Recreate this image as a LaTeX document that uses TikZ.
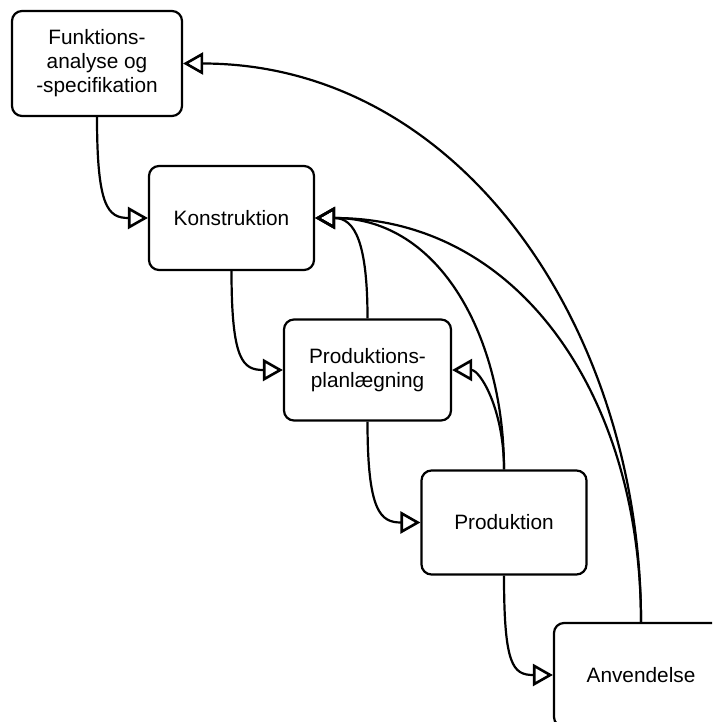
\documentclass[tikz,border=0pt]{standalone}
\usepackage{fontspec}
\setmainfont{Liberation Sans}
\usetikzlibrary{arrows.meta}
\begin{document}
\begin{tikzpicture}[x=1pt,y=-1pt,
  phase/.style={draw, line width=2.2pt, rounded corners=10pt, align=center,
    font=\fontsize{20.8}{24}\selectfont, inner sep=0pt},
  flow/.style={line width=2.2pt, -{Triangle[open,length=20pt,width=22pt,line width=2.6pt]}}]
\clip (0,0) rectangle (712,722);
% process phases
\node[phase, minimum width=170pt, minimum height=105pt] (fa) at (97,63.5) {Funktions-\\analyse og\\-specifikation};
\node[phase, minimum width=165pt, minimum height=104pt] (ko) at (231.5,218) {Konstruktion};
\node[phase, minimum width=167pt, minimum height=101pt] (pp) at (367.5,370) {Produktions-\\planlægning};
\node[phase, minimum width=165pt, minimum height=104pt] (pr) at (504,522.5) {Produktion};
\node[phase, minimum width=174pt, minimum height=104pt] (an) at (641,675) {Anvendelse};
% forward flow
\draw[flow] (fa.south) .. controls +(0,90) and +(-40,0) .. (ko.west);
\draw[flow] (ko.south) .. controls +(0,90) and +(-40,0) .. (pp.west);
\draw[flow] (pp.south) .. controls +(0,90) and +(-40,0) .. (pr.west);
\draw[flow] (pr.south) .. controls +(0,90) and +(-40,0) .. (an.west);
% feedback
\draw[flow] (pp.north) .. controls +(0,-75) and +(40,0) .. (ko.east);
\draw[flow] (pr.north) .. controls +(0,-60) and +(28,0) .. (pp.east);
\draw[flow] (pr.north) .. controls +(0,-130) and +(126,0) .. (ko.east);
\draw[flow] (an.north) .. controls +(0,-223) and +(206,0) .. (ko.east);
\draw[flow] (an.north) .. controls +(0,-293) and +(278,0) .. (fa.east);
\end{tikzpicture}
\end{document}
